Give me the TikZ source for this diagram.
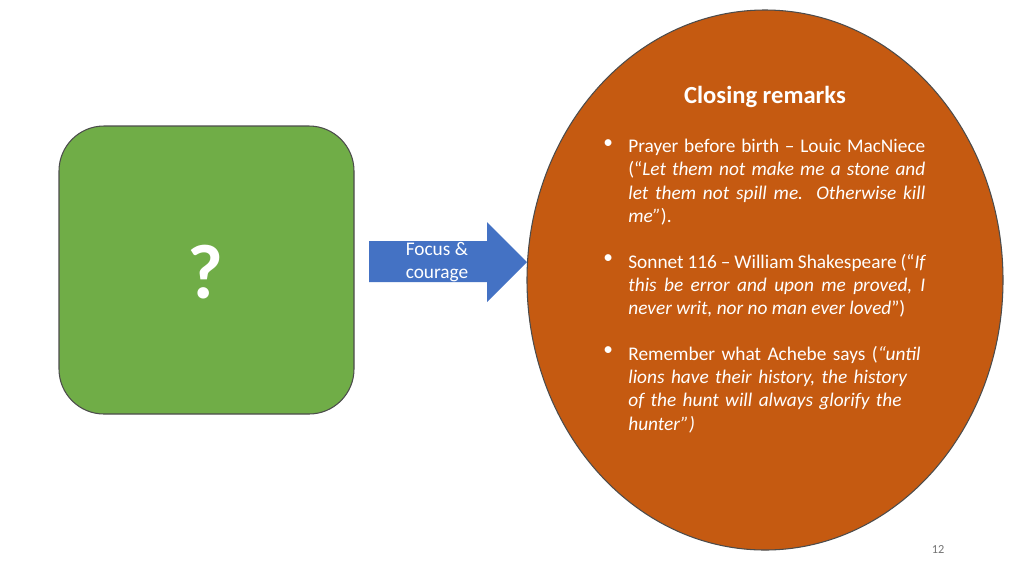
\documentclass[tikz,border=0pt]{standalone}
\usepackage{fontspec}
\setmainfont{Carlito}
\usetikzlibrary{positioning}
\definecolor{ovalfill}{HTML}{C55A11}
\definecolor{boxfill}{HTML}{70AD47}
\definecolor{arrowfill}{HTML}{4472C4}
\definecolor{edge}{HTML}{2F3E1E}
\tikzset{
  remark/.style={anchor=north west, text width=5.94cm, inner sep=0pt, text=white,
    font=\fontsize{11}{13.2}\selectfont},
  dot/.style={anchor=north west, inner sep=0pt, text=white, font=\fontsize{11}{13.2}\selectfont}
}
\begin{document}
\begin{tikzpicture}[x=0.02cm,y=-0.02cm]
    \useasboundingbox (0,0) rectangle (1024,576);
    \fill[white] (0,0) rectangle (1024,576);

    % oval with the remarks
    \draw[fill=ovalfill, draw=black!70, line width=.6pt] (765,280) ellipse [x radius=238, y radius=270];
    % green box
    \draw[fill=boxfill, draw=black!70, line width=.6pt, rounded corners=0.9cm] (59,126) rectangle (354,414);
    \node (quest) at (205,272) {\fontsize{44}{44}\selectfont\bfseries\color{white}?};

    % block arrow
    \fill[arrowfill] (369,241) -- (487,241) -- (487,222) -- (527,262)
      -- (487,302) -- (487,282) -- (369,282) -- cycle;
    \node[align=left, text=white, inner sep=0pt, font=\fontsize{11}{13.2}\selectfont]
      (focus) at (437,262) {Focus \&\\courage};

    \node[text=white, font=\fontsize{14}{16}\selectfont\bfseries] (title) at (765,97) {Closing remarks};

    \node[dot] (b1) at (603,139) {\textbullet};
    \node[remark, align=justify] (r1) at (628,139)
      {Prayer before birth -- Louic MacNiece (``\textit{Let them not make me a stone and let them not spill me. Otherwise kill me''}).};
    \node[dot] (b2) at (603,254) {\textbullet};
    \node[remark, align=justify] (r2) at (628,254)
      {Sonnet 116 -- William Shakespeare (``\textit{If this be error and upon me proved, I never writ, nor no man ever loved}'')};
    \node[dot] (b3) at (603,346) {\textbullet};
    \node[remark, align=left] (r3) at (628,346)
      {Remember what Achebe says (\textit{``until lions have their history, the history of the hunt will always glorify the hunter'')}};

    \node[text=black!55, font=\fontsize{7}{8}\selectfont] (page) at (938,549) {12};
\end{tikzpicture}
\end{document}
